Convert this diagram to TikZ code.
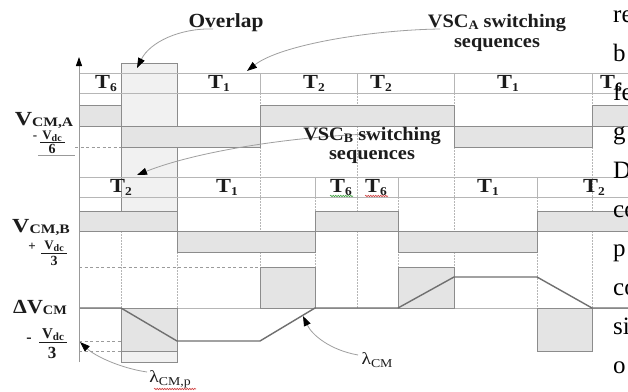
\documentclass[tikz,border=0pt]{standalone}
\usepackage{fontspec}
\usepackage{graphicx}
\setmainfont{Liberation Serif}
\usetikzlibrary{arrows.meta,decorations.pathmorphing}

\definecolor{gridc}{HTML}{B6B6B6}
\definecolor{boxc}{HTML}{8C8C8C}
\definecolor{fillc}{HTML}{E4E4E4}
\definecolor{ovc}{HTML}{F1F1F1}
\definecolor{lamc}{HTML}{707070}
\definecolor{txt}{HTML}{1C1C1C}
\definecolor{sqred}{HTML}{D04040}
\definecolor{sqgreen}{HTML}{40A040}

\newcommand\lowsub[3]{\raisebox{-#1}{\fontsize{#2}{#2}\selectfont #3}}
\newcommand\hx[2]{\scalebox{#1}[1]{#2}}

\tikzset{
  gridline/.style={draw=gridc, line width=0.9pt},
  dotv/.style={draw=gridc, line width=0.9pt, dash pattern=on 1.5pt off 1.5pt},
  dashh/.style={draw=gridc!85!black, line width=0.8pt, dash pattern=on 3pt off 2.5pt},
  gbox/.style={fill=fillc, draw=boxc, line width=0.9pt},
  obox/.style={fill=ovc, draw=boxc, line width=0.9pt},
  lam/.style={draw=lamc, line width=1.4pt, line join=round},
  axisline/.style={draw=gray!80, line width=0.9pt, -{Triangle[length=9pt,width=6pt,color=black]}},
  callout/.style={draw=gray!75, line width=0.8pt, -{Triangle[length=10pt,width=7pt,color=black]}},
  tlab/.style={anchor=base, text=txt, inner sep=0pt, font=\fontsize{20}{20}\selectfont\bfseries},
  lbl/.style={anchor=base, text=txt, inner sep=0pt, font=\fontsize{20}{20}\selectfont\bfseries},
  fracn/.style={anchor=base, text=txt, inner sep=0pt, font=\fontsize{13}{13}\selectfont\bfseries},
  body/.style={anchor=base west, text=black, inner sep=0pt, font=\fontsize{25}{25}\selectfont},
  lamlab/.style={anchor=base, text=txt, inner sep=0pt, font=\fontsize{17}{17}\selectfont},
  squig/.style={line width=0.6pt, decorate, decoration={snake, segment length=2.5pt, amplitude=0.7pt}}
}

\begin{document}
\begin{tikzpicture}[x=1pt,y=-1pt]
\useasboundingbox (0,0) rectangle (628,391);
\clip (0,0) rectangle (628,391);
\fill[white] (0,0) rectangle (628,391);

% overlap window
\path[obox] (121,63) rectangle (177,211);
\path[obox] (121,351) rectangle (177,362);

% horizontal grid lines
\foreach \yy in {73,93,126,177,197,231,308} \draw[gridline] (79,\yy) -- (628,\yy);

% dotted verticals
\draw[dotv] (121,231) -- (121,308);
\draw[dotv] (177,252) -- (177,308);
\foreach \xx in {260,357,454,592} \draw[dotv] (\xx,93) -- (\xx,308);
\foreach \xx in {315,398,537} \draw[dotv] (\xx,197) -- (\xx,308);

% dashed reference levels
\draw[dashh] (75,147) -- (121,147);
\draw[dashh] (79,267) -- (260,267);
\draw[dashh] (79,341) -- (177,341);
\draw[dashh] (79,351) -- (121,351);

% V_CM,A boxes
\path[gbox] (79,105) rectangle (121,126);
\path[gbox] (260,105) rectangle (454,126);
\path[gbox] (592,105) rectangle (640,126);
\path[gbox] (121,126) rectangle (260,147);
\path[gbox] (454,126) rectangle (592,147);
% V_CM,B boxes
\path[gbox] (79,211) rectangle (177,231);
\path[gbox] (315,211) rectangle (398,231);
\path[gbox] (537,211) rectangle (640,231);
\path[gbox] (177,231) rectangle (315,252);
\path[gbox] (398,231) rectangle (537,252);
% Delta V_CM boxes
\path[gbox] (260,267) rectangle (315,308);
\path[gbox] (398,267) rectangle (454,308);
\path[gbox] (121,308) rectangle (177,351);
\path[gbox] (537,308) rectangle (592,351);

% row dividers
\foreach \xx in {260,357,454,592} \draw[gridline] (\xx,73) -- (\xx,93);
\foreach \xx in {315,398,537} \draw[gridline] (\xx,177) -- (\xx,197);

% lambda_CM curve
\draw[lam] (79,308) -- (121,308) -- (177,341) -- (260,341) -- (315,308) -- (398,308)
  -- (454,277) -- (537,277) -- (592,308) -- (628,308);

% axis
\coordinate (axb) at (79,362);
\coordinate (axt) at (79,57);
\draw[axisline] (axb) -- (axt);

% row A switching states
\node[tlab] (a1) at (106,88) {\hx{1.12}{T\lowsub{3pt}{12}{6}}};
\node[tlab] (a2) at (219,88) {\hx{1.12}{T\lowsub{3pt}{12}{1}}};
\node[tlab] (a3) at (314,88) {\hx{1.12}{T\lowsub{3pt}{12}{2}}};
\node[tlab] (a4) at (381,88) {\hx{1.12}{T\lowsub{3pt}{12}{2}}};
\node[tlab] (a5) at (508,88) {\hx{1.12}{T\lowsub{3pt}{12}{1}}};
\node[tlab, anchor=base west] (a6) at (600,88) {\hx{1.12}{T\lowsub{3pt}{12}{6}}};
% row B switching states
\node[tlab] (b1) at (121,192) {\hx{1.12}{T\lowsub{3pt}{12}{2}}};
\node[tlab] (b2) at (227,192) {\hx{1.12}{T\lowsub{3pt}{12}{1}}};
\node[tlab] (b3) at (341,192) {\hx{1.12}{T\lowsub{3pt}{12}{6}}};
\node[tlab] (b4) at (376,192) {\hx{1.12}{T\lowsub{3pt}{12}{6}}};
\node[tlab] (b5) at (488,192) {\hx{1.12}{T\lowsub{3pt}{12}{1}}};
\node[tlab] (b6) at (594,192) {\hx{1.12}{T\lowsub{3pt}{12}{2}}};
\draw[squig, sqgreen] (330,196) -- (353,196);
\draw[squig, sqred] (365,196) -- (388,196);

% left labels
\node[lbl] (vcma) at (44,125) {\hx{1.2}{V\lowsub{1pt}{13}{CM,A}}};
\node[fracn] (m1) at (35,139) {-};
\node[fracn] (n1) at (52,139) {V\lowsub{2pt}{10}{dc}};
\draw[draw=txt, line width=0.6pt] (40,142) -- (65,142);
\node[fracn, font=\fontsize{14}{14}\selectfont\bfseries] (d1) at (52,153) {6};
\draw[draw=gray!80, line width=0.8pt] (38,155) -- (75,155);

\node[lbl] (vcmb) at (41,232) {\hx{1.2}{V\lowsub{1pt}{13}{CM,B}}};
\node[fracn] (m2) at (32,250) {+};
\node[fracn] (n2) at (54,249) {V\lowsub{2pt}{10}{dc}};
\draw[draw=txt, line width=0.6pt] (41,253) -- (67,253);
\node[fracn, font=\fontsize{14}{14}\selectfont\bfseries] (d2) at (54,265) {3};

\node[lbl] (dvcm) at (40,313) {\hx{1.1}{ΔV\lowsub{1pt}{13}{CM}}};
\node[fracn, font=\fontsize{16}{16}\selectfont\bfseries] (m3) at (29,342) {-};
\node[fracn, font=\fontsize{15}{15}\selectfont\bfseries] (n3) at (53,338) {V\lowsub{2pt}{11}{dc}};
\draw[draw=txt, line width=0.6pt] (39,342) -- (67,342);
\node[fracn, font=\fontsize{17}{17}\selectfont\bfseries] (d3) at (52,358) {3};

% annotations
\node[lbl] (ovl) at (226,27) {\hx{1.07}{Overlap}};
\coordinate (ovs) at (213,29);
\coordinate (ove) at (137,68);
\draw[callout] (ovs) .. controls (180,28) and (150,42) .. (ove);

\node[lbl, font=\fontsize{19}{19}\selectfont\bfseries] (vsca) at (497,27) {\hx{1.07}{VSC\lowsub{2pt}{13}{A} switching}};
\node[lbl, font=\fontsize{19}{19}\selectfont\bfseries] (vsca2) at (497,47) {\hx{1.07}{sequences}};
\coordinate (vas) at (440,29);
\coordinate (vae) at (247,71);
\draw[callout] (vas) .. controls (370,30) and (280,45) .. (vae);

\coordinate (vbs) at (372,134);
\coordinate (vbe) at (137,175);
\draw[callout] (vbs) .. controls (300,136) and (200,150) .. (vbe);
\node[lbl, font=\fontsize{19}{19}\selectfont\bfseries] (vscb) at (372,140) {\hx{1.07}{VSC\lowsub{2pt}{13}{B} switching}};
\node[lbl, font=\fontsize{19}{19}\selectfont\bfseries] (vscb2) at (372,159) {\hx{1.07}{sequences}};

\node[lamlab] (lcmp) at (170,382) {\hx{1.15}{λ\lowsub{3pt}{12}{CM,p}}};
\coordinate (lps) at (147,372);
\coordinate (lpe) at (80,342);
\draw[callout] (lps) .. controls (120,368) and (95,356) .. (lpe);
\draw[squig, sqred] (154,389) -- (196,389);

\node[lamlab] (lcm) at (377,364) {\hx{1.15}{λ\lowsub{3pt}{12}{CM}}};
\coordinate (lcs) at (358,355);
\coordinate (lce) at (303,316);
\draw[callout] (lcs) .. controls (330,350) and (312,335) .. (lce);

% cropped body text at the right edge
\node[body] (r1) at (613,22) {re};
\node[body] (r2) at (613,61) {b};
\node[body] (r3) at (613,100) {fe};
\node[body] (r4) at (613,139) {g};
\node[body] (r5) at (613,178) {D};
\node[body] (r6) at (613,217) {co};
\node[body] (r7) at (613,256) {p};
\node[body] (r8) at (613,295) {co};
\node[body] (r9) at (613,334) {si};
\node[body] (r10) at (613,373) {o};
\end{tikzpicture}
\end{document}
